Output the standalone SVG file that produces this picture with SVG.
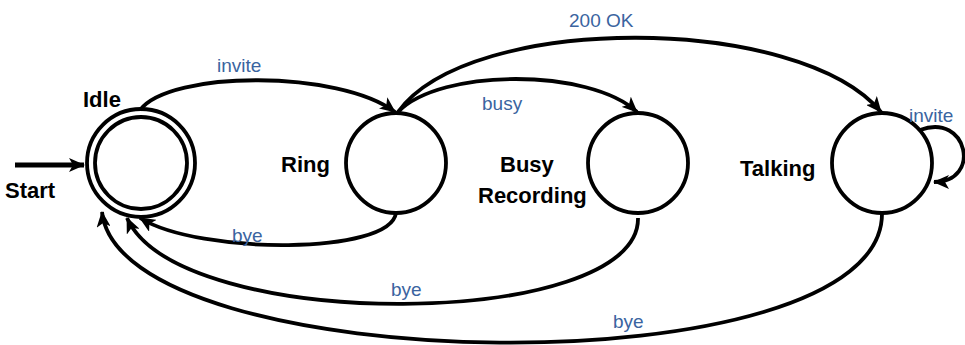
<svg xmlns="http://www.w3.org/2000/svg" width="965" height="345" viewBox="0 0 965 345">
<style>
.st{fill:none;stroke:#000;stroke-width:3.8}
.cn{fill:none;stroke:#000;stroke-width:3.8;marker-end:url(#ah)}
.nm{font-family:"Liberation Sans",Arial,sans-serif;font-weight:bold;font-size:22px;fill:#000}
.lb{font-family:"Liberation Sans",Arial,sans-serif;font-size:19px;fill:#3A64A0}
</style>
<defs>
<marker id="ah" viewBox="0 0 16 14" refX="15" refY="7" markerWidth="16" markerHeight="14" markerUnits="userSpaceOnUse" orient="auto">
<path d="M0,0 L16,7 L0,14 L4,7 Z" fill="#000"/>
</marker>
</defs>
<rect width="965" height="345" fill="#fff"/>
<g id="connectors">
<path id="start" d="M15,165 L84,165" fill="none" stroke="#000" stroke-width="5" marker-end="url(#ah)"/>
<path class="cn" d="M140,110 C170,70 340,70 395,112"/>
<path class="cn" d="M398,112 C440,68 590,68 637,112"/>
<path class="cn" d="M398,112 C470,12 800,14 881,112"/>
<path class="cn" d="M920,130 C968,112 982,182 934,182"/>
<path class="cn" d="M396,213 C390,255 200,255 140,218"/>
<path class="cn" d="M638,218 C640,330 180,335 127,218"/>
<path class="cn" d="M882,213 C884,392 120,380 102,212"/>
</g>
<g id="idle">
<circle cx="141" cy="163" r="54" class="st" stroke-width="4"/>
<circle cx="141" cy="163" r="46" class="st" stroke-width="4"/>
<text class="nm" x="83" y="107">Idle</text>
</g>
<g id="start-label"><text class="nm" x="5" y="198">Start</text></g>
<g id="ring">
<circle cx="396" cy="163" r="50" class="st"/>
<text class="nm" x="281" y="172">Ring</text>
</g>
<g id="busy">
<circle cx="638" cy="163" r="50" class="st"/>
<text class="nm" x="500" y="172">Busy</text>
<text class="nm" x="478" y="203">Recording</text>
</g>
<g id="talking">
<circle cx="882" cy="163" r="50" class="st"/>
<text class="nm" x="740" y="176">Talking</text>
</g>
<g id="labels">
<text class="lb" x="217" y="72">invite</text>
<text class="lb" x="482" y="110">busy</text>
<text class="lb" x="569" y="27">200 OK</text>
<text class="lb" x="909" y="122">invite</text>
<text class="lb" x="232" y="242">bye</text>
<text class="lb" x="391" y="296">bye</text>
<text class="lb" x="613" y="328">bye</text>
</g>
</svg>
